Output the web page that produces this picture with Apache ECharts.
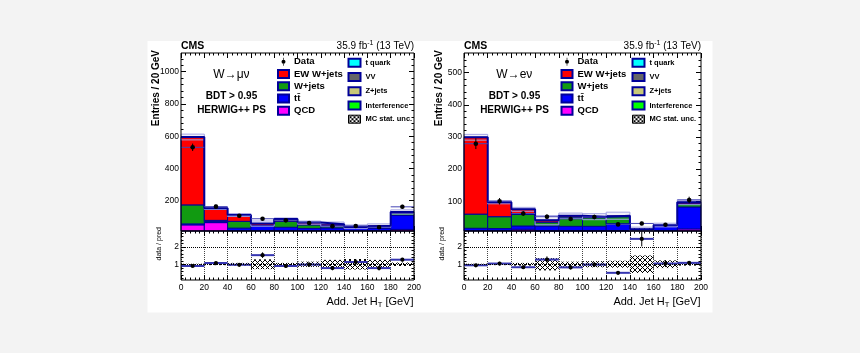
<!DOCTYPE html>
<html><head><meta charset="utf-8">
<script src="https://cdn.jsdelivr.net/npm/echarts@6/dist/echarts.min.js"></script>
<style>html,body{margin:0;padding:0;background:#f3f3f3}#c{width:860px;height:353px}</style>
</head><body><div id="c"></div>
<script>
// ---------------- data ----------------
const binEdges = [0,20,40,60,80,100,120,140,160,180,200];

// W -> mu nu
const muQCD      = [ 50, 64, 10,  4,  5,  4,  4,  4,  4, 22];
const muTTbar    = [  6,  8, 20, 40, 30, 24, 27, 29, 24, 86];
const muWjets    = [118,  6, 42,  3, 38, 22, 14,  2, 12, 15];
const muEWWjets  = [421, 75, 39, 11, 13, 14,  9,  3,  5,  7];
const muTquark   = [0,0,0,0,0,0,0,0,0,0];
const muVV       = [0,0,0,0,0,0,0,0,0,0];
const muZjets    = [0,0,0,0,0,0,0,0,0,0];
const muInterf   = [0,0,0,0,0,0,0,0,0,0];
const muData     = [531,163,107, 88, 78, 62, 42, 43, 35,162];
const muDataErr  = [ 23, 13, 10,9.4,8.8,7.9,6.5,6.6,5.9,12.7];
const muRatio    = [0.90,1.07,0.97,1.52,0.90,0.98,0.78,1.13,0.78,1.26];
const muRatioErr = [0.04,0.085,0.09,0.16,0.10,0.12,0.12,0.17,0.13,0.10];
const muMCUnc    = [0.03,0.05,0.08,0.28,0.08,0.15,0.25,0.30,0.25,0.10];
const muYTicks   = [200,400,600,800,1000];

// W -> e nu
const eQCD       = [  3,  3, 13,  8,  8,  8,  8,  5,  6, 14];
const eTTbar     = [ 13, 12, 10, 15, 14, 14, 22,  8, 17, 68];
const eWjets     = [ 44, 37, 36, 12, 29, 27, 22,  0,  2, 10];
const eEWWjets   = [239, 45, 16,  6,  4,  3,  3,  0,  1,  5];
const eTquark    = [0,0,0,0,0,0,0,0,0,0];
const eVV        = [0,0,0,0,0,0,0,0,0,0];
const eZjets     = [0,0,0,0,0,0,0,0,0,0];
const eInterf    = [0,0,0,0,0,0,0,0,0,0];
const eData      = [279,100, 62, 52, 45, 51, 28, 31, 27,104];
const eDataErr   = [16.7, 10,7.9,7.2,6.7,7.1,5.3,5.6,5.2,10.2];
const eRatio     = [0.94,1.04,0.83,1.27,0.82,0.98,0.51,2.45,1.04,1.08];
const eRatioErr  = [0.056,0.10,0.105,0.18,0.12,0.14,0.10,0.43,0.20,0.105];
const eMCUnc     = [0.03,0.05,0.08,0.35,0.15,0.18,0.20,0.50,0.22,0.08];
const eYTicks    = [100,200,300,400,500];

const ratioTicks = [1,2];

// ---------------- styling ----------------
const FONT = "'Liberation Sans', Arial, Helvetica, sans-serif";
const NAVY = '#000099';
const COL = {qcd:'#ff00ff', tt:'#0000ff', wj:'#119a11', ew:'#ff0000', tq:'#00ffff', vv:'#666666', zj:'#c8c878', intf:'#00ff00'};

function range(a,b,s){const r=[];for(let v=a; v<=b+1e-9; v+=s) r.push(+v.toFixed(6)); return r;}
function hatch(color, size, bg){
  const c=document.createElement('canvas'); c.width=c.height=size;
  const g=c.getContext('2d');
  if(bg){g.fillStyle=bg; g.fillRect(0,0,size,size);}
  g.strokeStyle=color; g.lineWidth=1;
  g.beginPath(); g.moveTo(0,0); g.lineTo(size,size); g.moveTo(size,0); g.lineTo(0,size); g.stroke();
  return {image:c, repeat:'repeat'};
}
const HATCH_RATIO = hatch('#000', 5);
const HATCH_LEG = hatch('#000', 4, '#fff');

function clip(shape, cs){ return echarts.graphic.clipRectByRect(shape,{x:cs.x,y:cs.y,width:cs.width,height:cs.height}); }
function renderRect(params, api){
  const y0=api.value(2), y1=api.value(3);
  if(!(y1>y0)) return null;
  const a=api.coord([api.value(0), y1]), b=api.coord([api.value(1), y0]);
  const shape=clip({x:a[0],y:a[1],width:b[0]-a[0],height:b[1]-a[1]}, params.coordSys);
  if(!shape) return null;
  return {type:'rect', shape, style: api.style()};
}
function renderPoint(hColor, hWidth, r){
  return function(params, api){
    const x0=api.value(0), x1=api.value(1), v=api.value(2), e=api.value(3), xc=(x0+x1)/2;
    const pL=api.coord([x0,v]), pR=api.coord([x1,v]), pT=api.coord([xc,v+e]), pB=api.coord([xc,v-e]);
    return {type:'group', children:[
      {type:'line', shape:{x1:pL[0],y1:pL[1],x2:pR[0],y2:pR[1]}, style:{stroke:hColor,lineWidth:hWidth}},
      {type:'line', shape:{x1:pT[0],y1:pT[1],x2:pB[0],y2:pB[1]}, style:{stroke:'#000',lineWidth:1}},
      {type:'circle', shape:{cx:pL[0]+(pR[0]-pL[0])/2, cy:pL[1], r}, style:{fill:'#000'}}
    ]};
  };
}

function xAxes(g, labels, split){
  const base = {type:'value', gridIndex:g, min:0, max:200, interval:20,
    axisLine:{show:false},
    axisTick:{show:true, inside:true, length:5, lineStyle:{color:'#000'}},
    minorTick:{show:true, splitNumber:5, length:2.5, lineStyle:{color:'#000'}}};
  return [
    Object.assign({}, base, {position:'bottom',
      axisLabel:{show:labels, fontSize:8.5, color:'#000', margin:3, fontFamily:FONT},
      splitLine:{show:split, lineStyle:{type:'dotted', color:'#444', width:1}}}),
    Object.assign({}, base, {position:'top', axisLabel:{show:false}, splitLine:{show:false}})
  ];
}
function yAxes(g, min, max, major, minor, majLen, minLen){
  const mk=(pos, vals, len, lab)=>({type:'value', gridIndex:g, min, max, position:pos,
    axisLine:{show:false}, splitLine:{show:false},
    axisTick:{show:true, inside:true, length:len, customValues:vals, lineStyle:{color:'#000'}},
    axisLabel: lab ? {show:true, customValues:vals, fontSize:8.5, color:'#000', margin:2, fontFamily:FONT,
      formatter:(v)=>String(v)} : {show:false}});
  return [mk('left',major,majLen,true), mk('left',minor,minLen,false), mk('right',major,majLen,false), mk('right',minor,minLen,false)];
}

function panelSeries(P, gU, gR){
  const comps=[['QCD',P.qcd,COL.qcd],['t\u0074\u0304',P.tt,COL.tt],['W+jets',P.wj,COL.wj],['EW W+jets',P.ew,COL.ew],
               ['t quark',P.tq,COL.tq],['VV',P.vv,COL.vv],['Z+jets',P.zj,COL.zj],['Interference',P.intf,COL.intf]];
  const base=new Array(10).fill(0), out=[];
  comps.forEach(([name,arr,color])=>{
    const data=arr.map((v,i)=>{const b=base[i]; base[i]+=v; return [binEdges[i],binEdges[i+1],b,b+v];});
    out.push({type:'custom', name, xAxisIndex:2*gU, yAxisIndex:4*gU, renderItem:renderRect,
      itemStyle:{color, borderColor:NAVY, borderWidth:1}, data, z:2});
  });
  const total=base;
  out.push({type:'custom', name:'MC stat. unc.', xAxisIndex:2*gU, yAxisIndex:4*gU, renderItem:renderRect,
    itemStyle:{color:'rgba(60,60,160,0.07)', borderColor:'#a4a4e4', borderWidth:1},
    data: total.map((t,i)=>[binEdges[i],binEdges[i+1],t*(1-P.unc[i]),t*(1+P.unc[i])]), z:3});
  out.push({type:'line', name:'MC total', xAxisIndex:2*gU, yAxisIndex:4*gU, step:'end', symbol:'none',
    lineStyle:{color:NAVY, width:2}, data: binEdges.map((x,i)=>[x,total[Math.min(i,9)]]), z:4});
  out.push({type:'custom', name:'Data', xAxisIndex:2*gU, yAxisIndex:4*gU, renderItem:renderPoint('#4545b5',1,2.3),
    itemStyle:{color:'#000'}, data: P.data.map((v,i)=>[binEdges[i],binEdges[i+1],v,P.err[i]]), z:5});
  // ratio
  out.push({type:'custom', name:'MC stat. unc.', xAxisIndex:2*gR, yAxisIndex:4*gR, renderItem:renderRect,
    itemStyle:{color:HATCH_RATIO}, data: P.unc.map((u,i)=>[binEdges[i],binEdges[i+1],1-u,1+u]), z:2,
    markLine:{silent:true, symbol:'none', label:{show:false}, lineStyle:{type:'dotted', color:'#000', width:1},
      data: ratioTicks.map(v=>({yAxis:v}))}});
  out.push({type:'custom', name:'Data', xAxisIndex:2*gR, yAxisIndex:4*gR, renderItem:renderPoint('#3535b0',2,2.1),
    itemStyle:{color:'#000'}, data: P.ratio.map((v,i)=>[binEdges[i],binEdges[i+1],v,P.rerr[i]]), z:4});
  return out;
}

const MU={qcd:muQCD,tt:muTTbar,wj:muWjets,ew:muEWWjets,tq:muTquark,vv:muVV,zj:muZjets,intf:muInterf,
  data:muData,err:muDataErr,ratio:muRatio,rerr:muRatioErr,unc:muMCUnc};
const EL={qcd:eQCD,tt:eTTbar,wj:eWjets,ew:eEWWjets,tq:eTquark,vv:eVV,zj:eZjets,intf:eInterf,
  data:eData,err:eDataErr,ratio:eRatio,rerr:eRatioErr,unc:eMCUnc};

const DATA_ICON='path://M2.6,0h0.8v2.6h-0.8z M2.6,7.4h0.8v2.6h-0.8z M0.5,5a2.5,2.5 0 1,0 5,0a2.5,2.5 0 1,0 -5,0z';
function legend1(left){
  return {left, top:56.7, orient:'vertical', padding:0, itemWidth:11, itemHeight:8, itemGap:2.25, selectedMode:false,
    textStyle:{fontSize:9.5, fontWeight:'bold', fontFamily:FONT, color:'#000', lineHeight:10},
    data:[{name:'Data', icon:DATA_ICON},{name:'EW W+jets',icon:'rect'},{name:'W+jets',icon:'rect'},{name:'t\u0074\u0304',icon:'rect'},{name:'QCD',icon:'rect'}]};
}
function legend2(left){
  return {left, top:57.7, orient:'vertical', padding:0, itemWidth:12, itemHeight:8, itemGap:4.25, selectedMode:false,
    textStyle:{fontSize:7.5, fontWeight:'bold', fontFamily:FONT, color:'#000', lineHeight:8},
    data:[{name:'t quark',icon:'rect'},{name:'VV',icon:'rect'},{name:'Z+jets',icon:'rect'},{name:'Interference',icon:'rect'},
      {name:'MC stat. unc.',icon:'rect',itemStyle:{color:HATCH_LEG,borderColor:'#000',borderWidth:1}}]};
}

function txt(x,y,text,size,o){
  o=o||{};
  return {type:'text', x, y, rotation:o.rot||0, z:100, silent:true,
    style:{x:0,y:0,text, fontSize:size, fontFamily:FONT, fontWeight:o.bold?'bold':'normal', fill:'#000',
      textAlign:o.align||'left', align:o.align||'left', textVerticalAlign:'middle', verticalAlign:'middle', rich:o.rich}};
}
const SUP={sup:{fontSize:7, fontFamily:FONT, verticalAlign:'top', lineHeight:13}, n:{fontSize:10, fontFamily:FONT, lineHeight:13}};
const SUB={sub:{fontSize:7.5, fontFamily:FONT, verticalAlign:'bottom', lineHeight:14}, n:{fontSize:11, fontFamily:FONT, lineHeight:14}};
function frame(x,y,w,h){ return {type:'rect', z:90, silent:true, shape:{x,y,width:w,height:h}, style:{fill:'none', stroke:'#000', lineWidth:1}}; }
function panelText(L, R, labelCh){
  return [
    txt(L, 46.5, 'CMS', 10.5, {bold:true}),
    txt(R, 46.5, '{n|35.9 fb}{sup|-1}{n| (13 TeV)}', 10, {align:'right', rich:SUP}),
    txt(L+32.3, 75, labelCh, 12),
    txt(L+50.5, 96.7, 'BDT > 0.95', 10, {bold:true, align:'center'}),
    txt(L+50.5, 110.7, 'HERWIG++ PS', 10, {bold:true, align:'center'}),
    txt(L-24.3, 50, 'Entries / 20 GeV', 10, {bold:true, align:'right', rot:Math.PI/2}),
    txt(L-22, 227, 'data / pred', 7, {align:'right', rot:Math.PI/2}),
    txt(R-0.5, 302, '{n|Add. Jet H}{sub|T}{n| [GeV]}', 11, {align:'right', rich:SUB})
  ];
}

const chart = echarts.init(document.getElementById('c'), null, {renderer:'canvas'});
chart.setOption({
  animation:false,
  backgroundColor:'#f3f3f3',
  grid:[
    {left:181, top:53, width:233, height:178},
    {left:181, top:231, width:233, height:49},
    {left:464, top:53, width:237, height:178},
    {left:464, top:231, width:237, height:49}
  ],
  xAxis:[].concat(xAxes(0,false,false), xAxes(1,true,true), xAxes(2,false,false), xAxes(3,true,true)),
  yAxis:[].concat(
    yAxes(0, 12, 1116, muYTicks, range(40,1080,40), 5, 2.5),
    yAxes(1, 0.1, 2.9, ratioTicks, range(0.2,2.8,0.2), 5, 2.5),
    yAxes(2, 7.5, 561, eYTicks, range(20,540,20), 5, 2.5),
    yAxes(3, 0.1, 2.9, ratioTicks, range(0.2,2.8,0.2), 5, 2.5)),
  legend:[legend1(277), legend2(347.5), legend1(560.5), legend2(631.5)],
  graphic:{elements:[
    {type:'rect', z:-10, silent:true, shape:{x:147.5,y:41,width:565,height:271.5}, style:{fill:'#fff'}},
    frame(181,53,233,178), frame(181,231,233,49), frame(464,53,237,178), frame(464,231,237,49)
  ].concat(panelText(181,414,'W\u2192\u03bc\u03bd'), panelText(464,701,'W\u2192e\u03bd'))},
  series:[].concat(panelSeries(MU,0,1), panelSeries(EL,2,3))
});
</script></body></html>
